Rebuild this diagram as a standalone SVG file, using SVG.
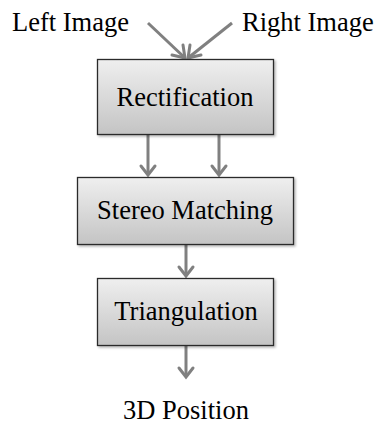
<svg xmlns="http://www.w3.org/2000/svg" width="379" height="426" viewBox="0 0 379 426">
<style>
.box{fill:url(#g);stroke:#2b2b2b;stroke-width:1.3;filter:url(#sh)}
.t{font-family:"Liberation Serif","Times New Roman",serif;font-size:26.5px;fill:#000}
.c{stroke:#808080;stroke-width:3;fill:none}
.h{stroke:#808080;stroke-width:3;fill:none;stroke-linecap:round}
</style>
<defs>
<linearGradient id="g" x1="0" y1="0" x2="0" y2="1">
<stop offset="0" stop-color="#efefef"/>
<stop offset="1" stop-color="#c4c4c4"/>
</linearGradient>
<filter id="sh" x="-10%" y="-10%" width="130%" height="130%">
<feDropShadow dx="1.5" dy="1.5" stdDeviation="1" flood-color="#000" flood-opacity="0.3"/>
</filter>
</defs>
<rect width="379" height="426" fill="#fff"/>
<g id="connectors">
<path class="c" d="M148 23 L185 58"/>
<path class="h" d="M172 55 L185 58 L183 45"/>
<path class="c" d="M232 23 L188 58"/>
<path class="h" d="M190 45 L188 58 L201 55"/>
<path class="c" d="M148 134 L148 175"/>
<path class="h" d="M141 166 L148 175 L155 166"/>
<path class="c" d="M219 134 L219 175"/>
<path class="h" d="M212 166 L219 175 L226 166"/>
<path class="c" d="M186 244 L186 276"/>
<path class="h" d="M179 267 L186 276 L193 267"/>
<path class="c" d="M186 346 L186 377"/>
<path class="h" d="M179 368 L186 377 L193 368"/>
</g>
<g id="left-image"><text class="t" x="12" y="31">Left Image</text></g>
<g id="right-image"><text class="t" x="242" y="31">Right Image</text></g>
<g id="rectification">
<rect class="box" x="97.5" y="59.5" width="176" height="75"/>
<text class="t" x="185" y="106" text-anchor="middle">Rectification</text>
</g>
<g id="stereo-matching">
<rect class="box" x="77.5" y="177.5" width="216" height="67"/>
<text class="t" x="185" y="219" text-anchor="middle">Stereo Matching</text>
</g>
<g id="triangulation">
<rect class="box" x="97.5" y="278.5" width="176" height="67"/>
<text class="t" x="186" y="320" text-anchor="middle">Triangulation</text>
</g>
<g id="3d-position"><text class="t" x="186" y="419" text-anchor="middle">3D Position</text></g>
</svg>
